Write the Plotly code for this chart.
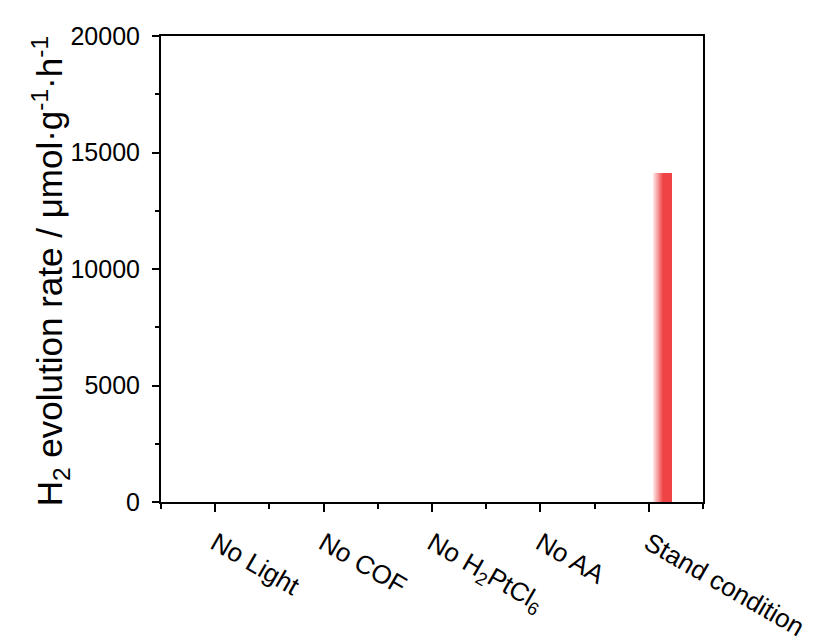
import plotly.graph_objects as go

categories = ["No Light", "No COF", "No H<sub>2</sub>PtCl<sub>6</sub>", "No AA", "Stand condition"]
rates = [0, 0, 0, 0, 14100]
y_ticks = [0, 5000, 10000, 15000, 20000]
y_title = "H<sub>2</sub> evolution rate / μmol·g<sup>-1</sup>·h<sup>-1</sup>"

x_idx = list(range(len(categories)))

fig = go.Figure()

# gradient bar: built from thin vertical slices
n_slices = 18
bar_offset = 0.042
bar_width = 0.166
light = (253, 236, 236)
red = (239, 68, 70)
grad_frac = 0.55
for i in range(n_slices):
    t = (i + 0.5) / n_slices
    f = min(t / grad_frac, 1.0)
    c = tuple(int(round(light[k] + (red[k] - light[k]) * f)) for k in range(3))
    fig.add_trace(go.Bar(
        x=x_idx, y=rates,
        offset=bar_offset + bar_width * i / n_slices,
        width=bar_width / n_slices * 1.05,
        marker=dict(color=f"rgb{c}", line=dict(width=0)),
        showlegend=False, hoverinfo="skip",
    ))

font_family = "Liberation Sans, Arial, sans-serif"
fig.update_layout(
    width=819, height=644,
    margin=dict(l=161, r=116, t=36, b=142),
    plot_bgcolor="white", paper_bgcolor="white",
    barmode="overlay", bargap=0,
    font=dict(family=font_family, color="black"),
    xaxis=dict(
        range=[-0.5, 4.5],
        automargin=False,
        tickvals=x_idx, ticktext=categories,
        tickangle=30,
        tickfont=dict(size=26),
        ticklabelstandoff=6,
        showline=True, linecolor="black", linewidth=2, mirror=True,
        ticks="outside", ticklen=8, tickwidth=1.5, tickcolor="black",
        minor=dict(tick0=0.5, dtick=1, ticks="outside", ticklen=5, tickwidth=1.5, tickcolor="black"),
        showgrid=False, zeroline=False,
    ),
    yaxis=dict(
        range=[0, 20000],
        automargin=False,
        tickvals=y_ticks,
        ticktext=[str(v) for v in y_ticks],
        tickfont=dict(size=25),
        ticklabelstandoff=7,
        showline=True, linecolor="black", linewidth=2, mirror=True,
        ticks="outside", ticklen=7, tickwidth=1.5, tickcolor="black",
        minor=dict(tick0=2500, dtick=5000, ticks="outside", ticklen=4, tickwidth=1.5, tickcolor="black"),
        showgrid=False, zeroline=False,
    ),
    annotations=[dict(
        text=y_title, textangle=-90,
        xref="paper", yref="paper",
        x=(50 - 161) / 542, y=0.495,
        xanchor="center", yanchor="middle",
        showarrow=False, font=dict(size=35),
    )],
)

fig.write_html("out.html")
